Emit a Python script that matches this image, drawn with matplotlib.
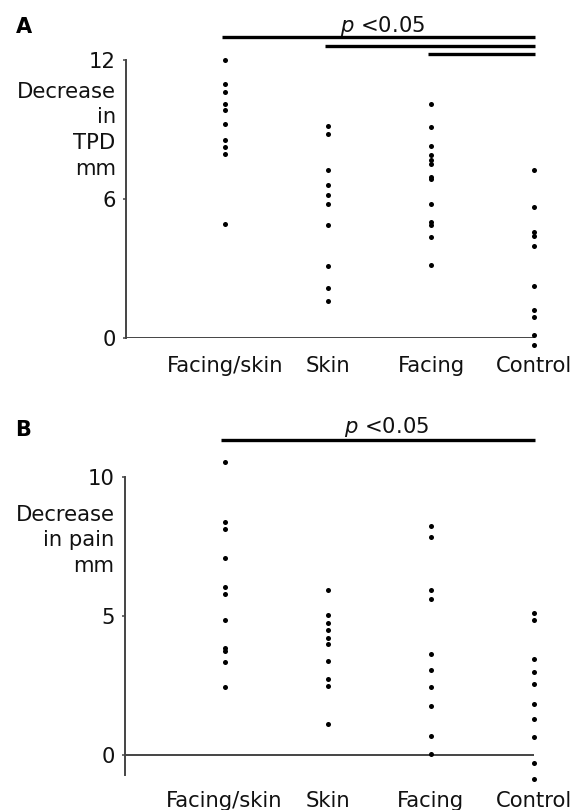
import matplotlib
matplotlib.use("Agg")
import matplotlib.pyplot as plt

# ---------------- data ----------------
groups = ["Facing/skin", "Skin", "Facing", "Control"]

A_facing_skin = [12.0, 10.95, 10.6, 10.1, 9.85, 9.25, 8.55, 8.25, 7.95, 4.95]
A_skin = [9.15, 8.8, 7.25, 6.6, 6.2, 5.8, 4.9, 3.1, 2.15, 1.6]
A_facing = [10.1, 9.1, 8.3, 7.9, 7.7, 7.5, 6.95, 6.85, 5.8, 5.0, 4.9, 4.35, 3.15]
A_control = [7.25, 5.65, 4.6, 4.4, 4.0, 2.25, 1.2, 0.9, 0.15, -0.3]

B_facing_skin = [10.55, 8.4, 8.15, 7.1, 6.05, 5.8, 4.85, 3.85, 3.75, 3.35, 2.45]
B_skin = [5.95, 5.05, 4.75, 4.5, 4.2, 4.0, 3.4, 2.75, 2.5, 1.1]
B_facing = [8.25, 7.85, 5.95, 5.6, 3.65, 3.05, 2.45, 1.75, 0.7, 0.05]
B_control = [5.1, 4.85, 3.45, 3.0, 2.55, 1.85, 1.3, 0.65, -0.3, -0.85]

A_yticks = [0, 6, 12]
B_yticks = [0, 5, 10]

# significance bars: (start group, end group, height)
A_bars = [(1, 4, 12.98), (2, 4, 12.59), (3, 4, 12.26)]
B_bars = [(1, 4, 11.34)]

# ---------------- figure ----------------
W, H = 582, 810
fig = plt.figure(figsize=(W / 100, H / 100), dpi=100)
plt.rcParams['font.family'] = ['DejaVu Sans']
FS = 15.2
AXC = '#444444'
TXT = '#111111'


def px_axes(left, right, top, bottom):
    return fig.add_axes([left / W, 1 - bottom / H, (right - left) / W, (bottom - top) / H])


def setup(ax, ylim, yticks, ylabel, label_y, spine_bottom, xpad, bars, ptext_xy):
    ax.set_xlim(0.03, 4.0)
    ax.set_ylim(*ylim)
    for s in ['top', 'right', 'bottom']:
        ax.spines[s].set_visible(False)
    ax.spines['left'].set_color(AXC)
    ax.spines['left'].set_linewidth(1.4)
    ax.spines['left'].set_bounds(spine_bottom, yticks[-1])
    ax.axhline(0, color=AXC, lw=1.4, xmin=0, xmax=1, zorder=1)
    ax.set_yticks(yticks)
    ax.tick_params(axis='y', length=2.5, width=1.1, color=AXC, labelsize=FS, pad=4.5,
                   labelcolor=TXT)
    ax.set_xticks(range(1, 5))
    ax.set_xticklabels(groups, fontsize=FS, color=TXT)
    ax.tick_params(axis='x', length=0, pad=xpad)
    ax.annotate(ylabel, xy=(0, label_y), xycoords=('axes fraction', 'data'),
                xytext=(-10, 0), textcoords='offset pixels', ha='right', va='center',
                fontsize=FS, linespacing=1.36, color=TXT)
    for (g0, g1, h) in bars:
        ax.plot([g0 - 0.03, g1 + 0.01], [h, h], color='black', lw=2.4,
                solid_capstyle='butt', clip_on=False)
    ax.text(ptext_xy[0], ptext_xy[1], r'$\mathit{p}$ <0.05', ha='center', va='baseline',
            fontsize=FS, clip_on=False, color=TXT)


# Panel A
axA = px_axes(125.7, 534.0, 60.0, 338.3)
for i, vals in enumerate([A_facing_skin, A_skin, A_facing, A_control]):
    axA.scatter([i + 1] * len(vals), vals, s=13, color='black', clip_on=False, zorder=3,
                linewidths=0)
setup(axA, (0, 12), A_yticks, "Decrease\nin\nTPD\nmm", 8.97, 0, 13, A_bars, (2.53, 13.22))

# Panel B
axB = px_axes(124.5, 534.0, 477.3, 775.0)
for i, vals in enumerate([B_facing_skin, B_skin, B_facing, B_control]):
    axB.scatter([i + 1] * len(vals), vals, s=13, color='black', clip_on=False, zorder=3,
                linewidths=0)
setup(axB, (-0.72, 10), B_yticks, "Decrease\nin pain\nmm", 7.73, -0.72, 11.5, B_bars,
      (2.57, 11.6))

fig.text(15.5 / W, 1 - 33 / H, "A", fontsize=15, fontweight='bold', ha='left', va='baseline')
fig.text(15 / W, 1 - 436 / H, "B", fontsize=15, fontweight='bold', ha='left', va='baseline')

fig.savefig("out.png", dpi=100, facecolor='white')
